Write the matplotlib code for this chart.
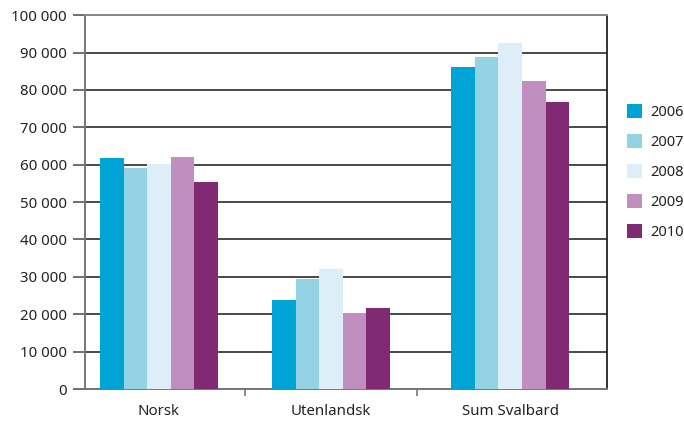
import numpy as np
import matplotlib
matplotlib.use("Agg")
import matplotlib.pyplot as plt
from matplotlib.ticker import FuncFormatter, FixedLocator

plt.rcParams['font.family'] = ['Noto Sans', 'DejaVu Sans']

categories = ["Norsk", "Utenlandsk", "Sum Svalbard"]
years = ["2006", "2007", "2008", "2009", "2010"]
values = {
    "2006": [61700, 23900, 86100],
    "2007": [59000, 29300, 88800],
    "2008": [60100, 32000, 92500],
    "2009": [62000, 20400, 82300],
    "2010": [55300, 21700, 76700],
}
colors = ["#00a3d6", "#93d3e4", "#ddeef8", "#c08fc0", "#7f2a72"]

fig = plt.figure(figsize=(6.84, 4.21), dpi=100)
ax = fig.add_axes([0.1243, 0.076, 0.763, 0.888])

x = np.array([0, 0.98, 2.0])
w = 0.134
for i, yr in enumerate(years):
    ax.bar(x + (i - 2) * w, values[yr], width=w, color=colors[i], label=yr, zorder=3)

ax.set_xlim(-0.42, 2.55)
ax.set_ylim(0, 100000)
ax.set_yticks(np.arange(0, 100001, 10000))
ax.yaxis.set_major_formatter(FuncFormatter(lambda v, p: f"{int(v):,}".replace(",", " ")))
ax.grid(axis="y", color="#3a3a3a", linewidth=1.3, zorder=0)

ax.set_xticks(x)
ax.set_xticklabels(categories)
ax.xaxis.set_minor_locator(FixedLocator([0.49, 1.47]))
ax.tick_params(axis="x", which="major", length=0, pad=11, labelsize=10.8, colors="#222222")
ax.tick_params(axis="x", which="minor", length=5, width=1.2, color="#777777")
ax.tick_params(axis="y", length=9, width=1.2, color="#555555", labelsize=10.8,
               labelcolor="#222222", pad=4)

for s in ["left", "bottom"]:
    ax.spines[s].set_color("#777777")
    ax.spines[s].set_linewidth(1.4)
ax.spines["top"].set_color("#888888")
ax.spines["top"].set_linewidth(1.4)
ax.spines["right"].set_color("#222222")
ax.spines["right"].set_linewidth(1.3)

fig.legend(loc="upper left", bbox_to_anchor=(0.897, 0.784), frameon=False,
           handlelength=1.05, handleheight=1.05, labelspacing=0.98, handletextpad=0.6,
           fontsize=10.5, labelcolor="#222222")

fig.savefig("out.png", dpi=100)
